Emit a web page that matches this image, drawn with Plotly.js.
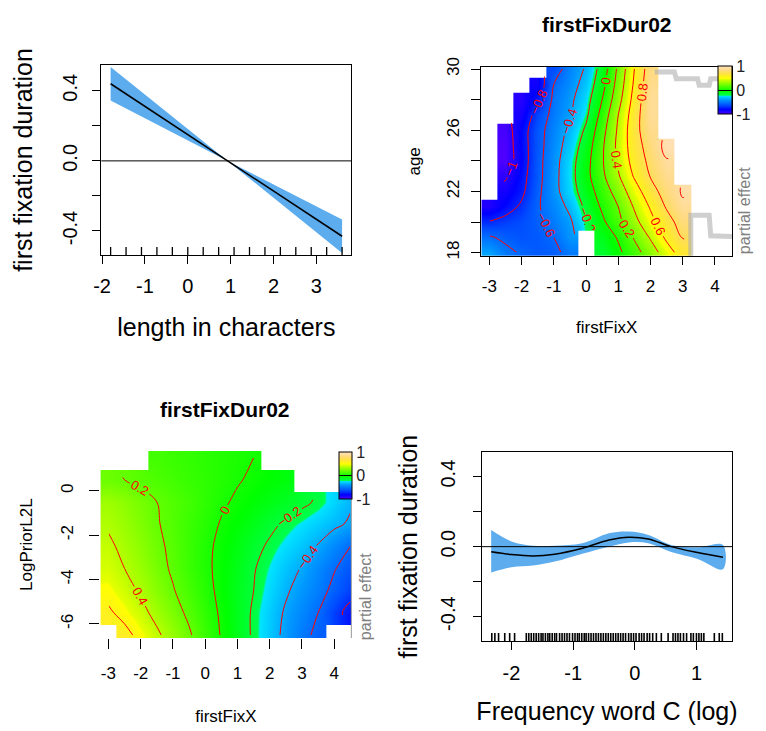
<!DOCTYPE html>
<html><head><meta charset="utf-8">
<script src="https://cdn.plot.ly/plotly-3.0.1.min.js"></script>
<style>html,body{margin:0;padding:0;background:#fff;}#chart{width:766px;height:731px;}</style>
</head><body><div id="chart"></div>
<script>
// ---------- Panel 1: length in characters ----------
var lenX = [-1.8, 0.93, 3.6];
var lenFit = [0.44, 0.0, -0.43];
var lenUp = [0.535, 0.0, -0.335];
var lenLo = [0.345, 0.0, -0.525];
var lenRug = [-1.8,-1.44,-1.08,-0.72,-0.36,0,0.36,0.72,1.08,1.44,1.8,2.16,2.52,2.88,3.24,3.6];
var lenTicks = [-2,-1,0,1,2,3];
var lenTickText = ['-2','-1','0','1','2','3'];
var effTicks = [-0.4,-0.2,0,0.2,0.4];
var effTickText = ['-0.4','','0.0','','0.4'];

// ---------- Panel 2: firstFixX x age ----------
var ageX = [-3,-2.5,-2,-1.5,-1,-0.5,0,0.5,1,1.5,2,2.5,3,3.5];
var ageY = [18,19,20,21,22,23,24,25,26,27,28,29,30];
var ageZ = [
 [-0.42,-0.55,-0.62,-0.66,-0.64,-0.55,null,-0.17,-0.04,0.12,0.3,0.5,0.7,null],
 [-0.58,-0.64,-0.68,-0.66,-0.6,-0.46,null,-0.12,0.02,0.22,0.42,0.64,0.81,null],
 [-0.79,-0.74,-0.7,-0.64,-0.54,-0.43,-0.22,-0.04,0.15,0.34,0.54,0.72,0.89,null],
 [-0.98,-0.88,-0.77,-0.62,-0.5,-0.36,-0.16,0.03,0.2,0.42,0.62,0.82,0.97,null],
 [null,-0.95,-0.84,-0.64,-0.46,-0.29,-0.1,0.09,0.29,0.51,0.72,0.89,1.02,null],
 [null,-1.02,-0.87,-0.66,-0.46,-0.27,-0.06,0.16,0.38,0.62,0.81,0.95,null,null],
 [null,-1.1,-0.9,-0.66,-0.47,-0.28,-0.07,0.18,0.43,0.68,0.85,0.99,null,null],
 [null,-1.1,-0.89,-0.67,-0.49,-0.32,-0.11,0.17,0.45,0.71,0.89,1.05,null,null],
 [null,-1.08,-0.89,-0.67,-0.51,-0.36,-0.17,0.13,0.43,0.73,0.94,null,null,null],
 [null,null,-0.96,-0.72,-0.54,-0.42,-0.24,0.07,0.4,0.71,0.97,null,null,null],
 [null,null,-1.0,-0.84,-0.56,-0.44,-0.28,0.0,0.33,0.67,0.97,null,null,null],
 [null,null,null,-0.94,-0.6,-0.48,-0.33,-0.07,0.28,0.63,0.94,null,null,null],
 [null,null,null,null,-0.7,-0.51,-0.38,-0.12,0.24,0.6,0.91,null,null,null]
];
var ageTicks = [18,20,22,24,26,28,30];
var ageTickText = ['18','','22','','26','','30'];
var fixTicks = [-3,-2,-1,0,1,2,3,4];
var fixTickText = ['-3','-2','-1','0','1','2','3','4'];
var edgeTopX = [2.13,2.74,2.8,3.46,3.51,3.82,3.87,4.53];
var edgeTopY = [29.81,29.81,29.37,29.37,28.93,28.93,29.37,29.37];
var edgeBotX = [3.25,3.25,3.82,3.87,4.53];
var edgeBotY = [17.8,20.44,20.44,19.1,19.05];

// ---------- Panel 3: firstFixX x LogPriorL2L ----------
var lpX = [-3,-2.5,-2,-1.5,-1,-0.5,0,0.5,1,1.5,2,2.5,3,3.5,4,4.5];
var lpY = [-6.5,-5.5,-4.5,-3.5,-2.5,-1.5,-0.5,0.5,1.5];
var lpZ = [
 [null,0.66,0.54,0.43,0.32,0.22,0.1,-0.01,-0.12,-0.22,-0.33,-0.44,-0.55,-0.64,null,null],
 [0.63,0.54,0.45,0.35,0.26,0.17,0.07,-0.02,-0.12,-0.22,-0.32,-0.42,-0.51,-0.6,-0.74,-0.86],
 [0.54,0.46,0.38,0.29,0.21,0.13,0.05,-0.04,-0.12,-0.2,-0.29,-0.38,-0.46,-0.54,-0.64,-0.74],
 [0.47,0.4,0.33,0.25,0.18,0.1,0.03,-0.04,-0.11,-0.19,-0.26,-0.34,-0.41,-0.5,-0.59,-0.67],
 [0.43,0.36,0.3,0.23,0.17,0.1,0.03,-0.03,-0.09,-0.16,-0.22,-0.28,-0.34,-0.41,-0.5,-0.6],
 [0.38,0.33,0.27,0.21,0.16,0.1,0.05,-0.01,-0.06,-0.11,-0.17,-0.22,-0.27,-0.32,-0.37,-0.42],
 [0.34,0.3,0.25,0.2,0.16,0.12,0.07,0.02,-0.02,-0.06,-0.1,-0.14,-0.17,-0.22,-0.3,-0.38],
 [0.22,0.2,0.17,0.15,0.12,0.09,0.07,0.04,0.01,-0.02,-0.05,-0.08,null,null,null,null],
 [null,null,null,0.12,0.1,0.08,0.06,0.04,0.02,0.0,null,null,null,null,null,null]
];
var lpTicks = [-6,-4,-2,0];
var lpTickText = ['-6','-4','-2','0'];

// ---------- Panel 4: Frequency word C (log) ----------
var freqX = [-2.33,-2.0,-1.65,-1.3,-0.85,-0.42,-0.1,0.22,0.59,1.02,1.43];
var freqFit = [-0.029,-0.045,-0.053,-0.043,-0.009,0.038,0.054,0.044,0.0,-0.034,-0.061];
var freqUp = [0.095,0.03,0.005,0.005,0.019,0.076,0.086,0.067,0.01,-0.004,0.01];
var freqLo = [-0.148,-0.118,-0.108,-0.085,-0.04,0.0,0.024,0.02,-0.03,-0.07,-0.129];
var freqRug = [-2.32,-2.27,-2.21,-2.11,-2.03,-1.95,-1.76,-1.72,-1.68,-1.64,-1.6,-1.56,-1.52,-1.49,-1.45,-1.41,-1.38,-1.34,-1.3,-1.27,-1.22,-1.18,-1.14,-1.1,-1.06,-1.01,-0.97,-0.93,-0.9,-0.86,-0.82,-0.79,-0.75,-0.71,-0.67,-0.63,-0.59,-0.55,-0.51,-0.47,-0.43,-0.39,-0.35,-0.31,-0.27,-0.23,-0.19,-0.15,-0.1,-0.06,-0.02,0.02,0.07,0.11,0.15,0.2,0.24,0.29,0.35,0.43,0.54,0.62,0.66,0.7,0.74,0.79,0.84,0.91,0.95,1.0,1.04,1.08,1.12,1.29,1.37,1.42];
var freqTicks = [-2,-1,0,1];
var freqTickText = ['-2','-1','0','1'];

// colour range of the image, legend labelled -1 / 0 / 1
var colMin = -1.1, colMax = 1.1;
var legendVals = [-1.1, 0, 1.1];
var legendText = ['-1','0','1'];

// ---------- styling ----------
var FONT = 'Liberation Sans, Arial, sans-serif';
var BAND = '#5CACEE';
// topo-like palette, stops placed to follow the picture's shading
var topo = [[0,'#4D00FF'],[0.0909,'#0000FF'],[0.1818,'#004DFF'],[0.2955,'#0099FF'],[0.3818,'#00E6FF'],
  [0.3864,'#00FF4D'],[0.4773,'#00FF00'],[0.5682,'#4DFF00'],[0.65,'#99FF00'],[0.7318,'#E6FF00'],
  [0.7364,'#FFFF00'],[0.809,'#FFEA2D'],[0.8636,'#FFDE59'],[0.918,'#FFDB86'],[0.977,'#FFE0B3'],[1,'#FFE0B3']];
var W = 766, H = 731;
function px(v){return v/W;} function py(v){return 1-v/H;}
function rev(a){return a.slice().reverse();}
function rugY(n, v){var o=[];for(var i=0;i<n;i++)o.push(v);return o;}

var traces = [];
// panel 1
traces.push({x: lenX.concat(rev(lenX)), y: lenUp.concat(rev(lenLo)), type:'scatter', mode:'lines', fill:'toself',
  fillcolor: BAND, line:{width:0, color:BAND}, xaxis:'x', yaxis:'y', hoverinfo:'skip'});
traces.push({x: lenX, y: lenFit, type:'scatter', mode:'lines', line:{color:'black', width:1.5}, xaxis:'x', yaxis:'y'});
traces.push({x: lenRug, y: rugY(lenRug.length, -0.52), type:'scatter', mode:'markers',
  marker:{symbol:'line-ns-open', size:7, color:'black', line:{width:1.3, color:'black'}}, xaxis:'x', yaxis:'y', hoverinfo:'skip'});

function cbar(xp, ytop, lenpx, thick){
  return {x: xp, xanchor:'left', y: ytop, yanchor:'top', len: lenpx, lenmode:'pixels', thickness: thick,
    thicknessmode:'pixels', outlinewidth:1, outlinecolor:'black', tickvals: legendVals, ticktext: legendText,
    ticks:'inside', ticklen: thick, tickcolor:'black', tickwidth:1, tickfont:{size:16, color:'#222', family:FONT},
    xpad:0, ypad:0, borderwidth:0};
}
// panel 2
traces.push({type:'heatmap', x: ageX, y: ageY, z: ageZ, colorscale: topo, zmin: colMin, zmax: colMax, zsmooth:'best',
  xaxis:'x2', yaxis:'y2', colorbar: cbar(px(728), py(66), 48, 14), hoverinfo:'skip'});
traces.push({type:'scatter', x: edgeTopX, y: edgeTopY, mode:'lines', line:{color:'rgba(175,175,175,0.6)', width:5},
  xaxis:'x2', yaxis:'y2', hoverinfo:'skip'});
traces.push({type:'scatter', x: edgeBotX, y: edgeBotY, mode:'lines', line:{color:'rgba(175,175,175,0.6)', width:5},
  xaxis:'x2', yaxis:'y2', hoverinfo:'skip'});
traces.push({type:'contour', x: ageX, y: ageY, z: ageZ, showscale:false, xaxis:'x2', yaxis:'y2',
  contours:{start:-1, end:1, size:0.2, coloring:'none', showlabels:true, labelfont:{color:'red', size:13, family:FONT}},
  line:{color:'red', width:1, smoothing:1}, hoverinfo:'skip'});

// panel 3
traces.push({type:'heatmap', x: lpX, y: lpY, z: lpZ, colorscale: topo, zmin: colMin, zmax: colMax, zsmooth:'best',
  xaxis:'x3', yaxis:'y3', colorbar: cbar(px(343), py(452), 47, 13), hoverinfo:'skip'});
traces.push({type:'contour', x: lpX, y: lpY, z: lpZ, showscale:false, xaxis:'x3', yaxis:'y3',
  contours:{start:-1, end:1, size:0.2, coloring:'none', showlabels:true, labelfont:{color:'red', size:13, family:FONT}},
  line:{color:'red', width:1, smoothing:1}, hoverinfo:'skip'});

// panel 4
traces.push({x: freqX.concat(rev(freqX)), y: freqUp.concat(rev(freqLo)), type:'scatter', mode:'lines', fill:'toself',
  fillcolor: BAND, line:{width:0, color:BAND, shape:'spline'}, xaxis:'x4', yaxis:'y4', hoverinfo:'skip'});
traces.push({x: freqX, y: freqFit, type:'scatter', mode:'lines', line:{color:'black', width:1.5, shape:'spline'}, xaxis:'x4', yaxis:'y4'});
traces.push({x: freqRug, y: rugY(freqRug.length, -0.522), type:'scatter', mode:'markers',
  marker:{symbol:'line-ns-open', size:7, color:'black', line:{width:1.6, color:'black'}}, xaxis:'x4', yaxis:'y4', hoverinfo:'skip'});

function axis(o){
  var base = {showgrid:false, zeroline:false, ticks:'outside', tickcolor:'black', tickwidth:1,
    color:'black', linecolor:'black', linewidth:1, fixedrange:true, tickmode:'array'};
  for (var k in o) base[k]=o[k];
  return base;
}
var lineTick = {size:20, family:FONT, color:'black'};
var lineTitle = {size:25, family:FONT, color:'black'};
var heatTick = {size:17, family:FONT, color:'black'};
var heatTitle = {size:17, family:FONT, color:'black'};

var layout = {
  width: W, height: H, margin:{l:0,r:0,t:0,b:0}, paper_bgcolor:'white', plot_bgcolor:'rgba(0,0,0,0)',
  showlegend:false, font:{family:FONT, color:'black'},
  xaxis: axis({domain:[px(102.7), px(356)], range:[-2.016, 3.816], tickvals:lenTicks, ticktext:lenTickText, ticklen:8,
    ticklabelstandoff:5, showline:true, mirror:true, anchor:'y', tickfont:lineTick,
    title:{text:'length in characters', font:lineTitle, standoff:22}}),
  yaxis: axis({domain:[py(255), py(65)], range:[-0.537, 0.547], tickvals:effTicks,
    ticktext:effTickText, tickangle:-90, ticklen:8, ticklabelstandoff:7, showline:true, mirror:true, anchor:'x',
    tickfont:lineTick, title:{text:'first fixation duration', font:lineTitle, standoff:19}}),

  xaxis2: axis({domain:[px(487.7), px(741.7)], range:[-3.25, 4.53], tickvals:fixTicks, ticktext:fixTickText, ticklen:8,
    ticklabelstandoff:7, showline:true, mirror:true, anchor:'y2', tickfont:heatTick,
    title:{text:'firstFixX', font:heatTitle, standoff:25}}),
  yaxis2: axis({domain:[py(256), py(66.7)], range:[17.78, 30.15], tickvals:ageTicks,
    ticktext:ageTickText, tickangle:-90, ticklen:9, ticklabelstandoff:6, showline:true, mirror:true, anchor:'x2',
    tickfont:heatTick, title:{text:'age', font:heatTitle, standoff:18}}),

  xaxis3: axis({domain:[px(101.7), px(356)], range:[-3.25, 4.53], tickvals:fixTicks, ticktext:fixTickText, ticklen:10,
    ticklabelstandoff:9, showline:false, anchor:'y3', tickfont:heatTick,
    title:{text:'firstFixX', font:heatTitle, standoff:28}}),
  yaxis3: axis({domain:[py(638.3), py(451)], range:[-6.65, 1.8], tickvals:lpTicks, ticktext:lpTickText,
    tickangle:-90, ticklen:10, ticklabelstandoff:10, showline:false, anchor:'x3',
    tickfont:heatTick, title:{text:'LogPriorL2L', font:heatTitle, standoff:20}}),

  xaxis4: axis({domain:[px(488.3), px(741.7)], range:[-2.48, 1.577], tickvals:freqTicks, ticktext:freqTickText, ticklen:8,
    ticklabelstandoff:6, showline:true, mirror:true, anchor:'y4', tickfont:lineTick,
    title:{text:'Frequency word C (log)', font:lineTitle, standoff:19}}),
  yaxis4: axis({domain:[py(641), py(452.3)], range:[-0.539, 0.539], tickvals:effTicks,
    ticktext:effTickText, tickangle:-90, ticklen:8, ticklabelstandoff:10, showline:true, mirror:true, anchor:'x4',
    tickfont:lineTick, title:{text:'first fixation duration', font:lineTitle, standoff:12}}),

  shapes: [
    {type:'line', xref:'x domain', yref:'y', x0:0, x1:1, y0:0, y1:0, line:{color:'black', width:1}},
    {type:'line', xref:'x4 domain', yref:'y4', x0:0, x1:1, y0:0, y1:0, line:{color:'black', width:1}},
    {type:'line', xref:'paper', yref:'paper', x0:px(356), x1:px(356), y0:py(499), y1:py(638), line:{color:'#999', width:1}}
  ],
  annotations: [
    {text:'firstFixDur02', xref:'paper', yref:'paper', x:px(614.7), y:py(24), xanchor:'center', yanchor:'middle',
      showarrow:false, font:{size:21, family:FONT, color:'black', weight:'bold'}},
    {text:'firstFixDur02', xref:'paper', yref:'paper', x:px(228), y:py(409), xanchor:'center', yanchor:'middle',
      showarrow:false, font:{size:21, family:FONT, color:'black', weight:'bold'}},
    {text:'partial effect', xref:'paper', yref:'paper', x:px(754), y:py(211), xanchor:'center', yanchor:'middle',
      textangle:-90, showarrow:false, font:{size:16, family:FONT, color:'#808080'}},
    {text:'partial effect', xref:'paper', yref:'paper', x:px(370), y:py(597), xanchor:'center', yanchor:'middle',
      textangle:-90, showarrow:false, font:{size:16, family:FONT, color:'#808080'}}
  ]
};

Plotly.newPlot('chart', traces, layout, {staticPlot:true, displayModeBar:false});
</script></body></html>
